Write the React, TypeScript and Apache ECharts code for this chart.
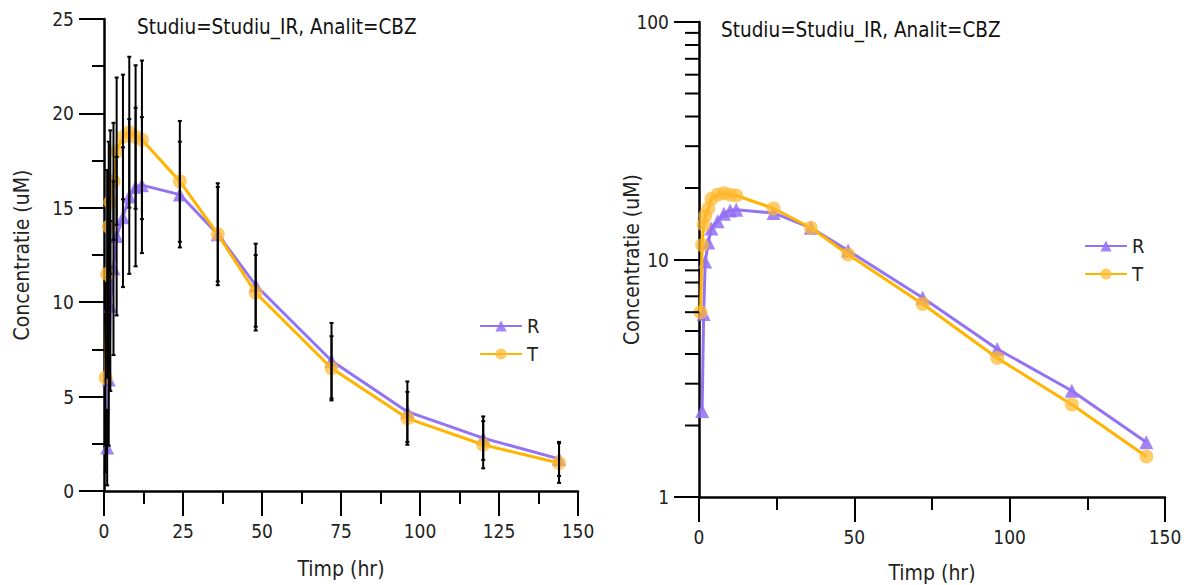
import React, { useEffect, useRef } from "react";
import * as echarts from "echarts";

const times = [0.5, 1, 1.5, 2, 3, 4, 6, 8, 10, 12, 24, 36, 48, 72, 96, 120, 144];
const rMean = [null, 2.3, 5.9, 9.8, 11.8, 13.5, 14.5, 15.6, 16.1, 16.2, 15.7, 13.6, 10.9, 6.9, 4.2, 2.8, 1.7];
const tMean = [6.0, 11.5, 14.0, 15.3, 16.4, 18.0, 18.75, 19.0, 18.75, 18.6, 16.4, 13.6, 10.5, 6.5, 3.85, 2.45, 1.48];
const rSd = [null, 2.0, 3.5, 4.5, 4.6, 4.2, 3.7, 4.1, 4.2, 3.6, 2.8, 2.7, 2.2, 2.0, 1.6, 1.15, 0.9];
const tSd = [5.0, 5.5, 4.5, 3.8, 3.1, 3.9, 3.3, 4.0, 3.8, 4.2, 3.2, 2.5, 2.0, 1.7, 1.4, 1.25, 1.05];
const seriesNames = ["R", "T"];
const titleText = "Studiu=Studiu_IR, Analit=CBZ";
const xName = "Timp (hr)";
const yName = "Concentratie (uM)";
const logMinorTicks = [2, 3, 4, 5, 6, 7, 8, 9, 20, 30, 40, 50, 60, 70, 80, 90];

const FONT = "'DejaVu Sans Condensed', 'DejaVu Sans', sans-serif";
const PURPLE = "#9373F2";
const PURPLE_M = "rgba(147,112,245,0.85)";
const ORANGE = "#FFB400";
const ORANGE_M = "rgba(255,184,48,0.72)";
const TXT = "#222";

function pairs(vals: (number | null)[]) {
  const out: number[][] = [];
  vals.forEach((v, i) => {
    if (v != null) out.push([times[i], v]);
  });
  return out;
}
function bars(means: (number | null)[], sds: (number | null)[]) {
  const out: number[][] = [];
  means.forEach((m, i) => {
    const s = sds[i];
    if (m != null && s != null) out.push([times[i], Math.max(0, m - s), m + s]);
  });
  return out;
}

export default function App() {
  const ref = useRef<HTMLDivElement>(null);
  useEffect(() => {
    if (!ref.current) return;
    const chart = echarts.init(ref.current, undefined, { renderer: "svg" });
    const axisCommon = {
      axisLine: { show: true, lineStyle: { color: "#000", width: 2.5 } },
      axisTick: { show: true, length: 25, inside: false, lineStyle: { color: "#000", width: 2 } },
      splitLine: { show: false },
      axisLabel: { color: TXT, fontSize: 19, fontFamily: FONT, margin: 30 },
      nameTextStyle: { color: TXT, fontSize: 21, fontFamily: FONT },
      nameLocation: "middle" as const,
      nameMoveOverlap: false,
    };
    const errRender = (params: any, api: any) => {
      const x = api.value(0);
      const lo = api.coord([x, api.value(1)]);
      const hi = api.coord([x, api.value(2)]);
      const c = 2;
      const st = { stroke: "#000", lineWidth: 2 };
      return {
        type: "group",
        children: [
          { type: "line", shape: { x1: lo[0], y1: lo[1], x2: hi[0], y2: hi[1] }, style: st },
          { type: "line", shape: { x1: hi[0] - c, y1: hi[1], x2: hi[0] + c, y2: hi[1] }, style: st },
          { type: "line", shape: { x1: lo[0] - c, y1: lo[1], x2: lo[0] + c, y2: lo[1] }, style: st },
        ],
      };
    };
    const lineSeries = (name: string, data: number[][], idx: number, isR: boolean) => ({
      name,
      type: "line",
      xAxisIndex: idx,
      yAxisIndex: idx,
      data,
      symbol: isR ? "triangle" : "circle",
      symbolSize: 14,
      lineStyle: { color: isR ? PURPLE : ORANGE, width: 3 },
      itemStyle: { color: isR ? PURPLE_M : ORANGE_M },
      color: isR ? PURPLE : ORANGE,
      z: isR ? 3 : 4,
    });
    const legendCommon = {
      data: seriesNames, orient: "vertical" as const, itemWidth: 42, itemHeight: 14, itemGap: 8,
      textStyle: { fontSize: 20, color: TXT, fontFamily: FONT },
    };
    chart.setOption({
      animation: false,
      textStyle: { fontFamily: FONT },
      title: [
        { text: titleText, left: 132, top: 11, textStyle: { fontSize: 20.5, fontWeight: "normal", color: "#111", fontFamily: FONT } },
        { text: titleText, left: 716, top: 14, textStyle: { fontSize: 20.5, fontWeight: "normal", color: "#111", fontFamily: FONT } },
      ],
      legend: [
        { ...legendCommon, left: 474, top: 311 },
        { ...legendCommon, left: 1079, top: 231 },
      ],
      grid: [
        { left: 104, right: 612, top: 19, bottom: 94, containLabel: false, outerBoundsMode: "none" },
        { left: 699, right: 25, top: 22, bottom: 88, containLabel: false, outerBoundsMode: "none" },
      ],
      xAxis: [
        {
          ...axisCommon, type: "value", gridIndex: 0, min: 0, max: 150, interval: 25,
          name: xName, nameGap: 67,
          minorTick: { show: true, splitNumber: 2, length: 13, lineStyle: { color: "#000", width: 2 } },
        },
        {
          ...axisCommon, type: "value", gridIndex: 1, min: 0, max: 150, interval: 50,
          name: xName, nameGap: 65,
          minorTick: { show: true, splitNumber: 2, length: 13, lineStyle: { color: "#000", width: 2 } },
        },
      ],
      yAxis: [
        {
          ...axisCommon, type: "value", gridIndex: 0, min: 0, max: 25, interval: 5,
          name: yName, nameGap: 72,
          minorTick: { show: true, splitNumber: 2, length: 12, lineStyle: { color: "#000", width: 2 } },
        },
        {
          ...axisCommon, type: "log", logBase: 10, gridIndex: 1, min: 1, max: 100,
          name: yName, nameGap: 57,
          minorTick: { show: false },
        },
      ],
      series: [
        lineSeries("R", pairs(rMean), 0, true),
        lineSeries("T", pairs(tMean), 0, false),
        { type: "custom", xAxisIndex: 0, yAxisIndex: 0, data: bars(rMean, rSd), renderItem: errRender, encode: { x: 0, y: [1, 2] }, z: 6, silent: true },
        { type: "custom", xAxisIndex: 0, yAxisIndex: 0, data: bars(tMean, tSd), renderItem: errRender, encode: { x: 0, y: [1, 2] }, z: 6, silent: true },
        lineSeries("R", pairs(rMean), 1, true),
        lineSeries("T", pairs(tMean), 1, false),
        {
          type: "custom", xAxisIndex: 1, yAxisIndex: 1, silent: true, z: 7,
          data: logMinorTicks.map((v) => [0, v]),
          encode: { x: 0, y: 1 },
          renderItem: (params: any, api: any) => {
            const p = api.coord([api.value(0), api.value(1)]);
            return { type: "line", shape: { x1: p[0] - 14, y1: p[1], x2: p[0], y2: p[1] }, style: { stroke: "#000", lineWidth: 2 } };
          },
        },
      ],
    });
    return () => chart.dispose();
  }, []);
  return <div ref={ref} style={{ position: "absolute", left: 0, top: 0, width: 1190, height: 585 }} />;
}
